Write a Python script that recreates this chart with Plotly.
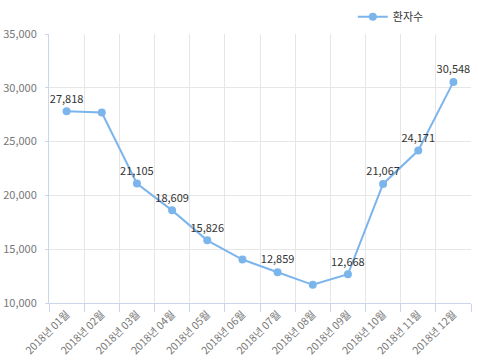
import plotly.graph_objects as go

months = ["2018년 01월", "2018년 02월", "2018년 03월", "2018년 04월", "2018년 05월", "2018년 06월",
          "2018년 07월", "2018년 08월", "2018년 09월", "2018년 10월", "2018년 11월", "2018년 12월"]
patients = [27818, 27700, 21105, 18609, 15826, 14040, 12859, 11690, 12668, 21067, 24171, 30548]
show_label = [True, False, True, True, True, False, True, False, True, True, True, True]
series_name = "환자수"

labels = [f"{v:,}" if s else "" for v, s in zip(patients, show_label)]

FONT = "Noto Sans CJK KR, Malgun Gothic, sans-serif"

fig = go.Figure()
fig.add_trace(go.Scatter(
    x=months, y=patients, name=series_name, mode="lines+markers+text",
    text=labels, textposition="top center",
    textfont=dict(size=11, color="#333333", family=FONT),
    line=dict(color="#7cb5ec", width=2),
    marker=dict(color="#7cb5ec", size=8),
    cliponaxis=False,
))

fig.update_layout(
    width=478, height=361,
    margin=dict(l=49, r=7, t=34, b=58, autoexpand=False),
    paper_bgcolor="white", plot_bgcolor="white",
    font=dict(family=FONT, size=11, color="#666666"),
    showlegend=True,
    legend=dict(orientation="h", x=0.90, xanchor="right", y=1.01, yanchor="bottom",
                itemwidth=30,
                font=dict(size=11, color="#333333"),
                bgcolor="rgba(0,0,0,0)"),
    xaxis=dict(
        type="category", tickson="boundaries", tickangle=-45,
        showgrid=True, gridcolor="#e6e6e6", gridwidth=1,
        showline=True, linecolor="#ccd6eb", linewidth=1,
        ticks="outside", ticklen=8, tickcolor="#ccd6eb",
        tickfont=dict(size=10.5, color="#777777"),
        range=[-0.5, 11.5], fixedrange=True, automargin=False,
    ),
    yaxis=dict(
        range=[10000, 35000], tickvals=[10000, 15000, 20000, 25000, 30000, 35000],
        tickformat=",d",
        showgrid=True, gridcolor="#e6e6e6", gridwidth=1,
        showline=True, linecolor="#ccd6eb", linewidth=1,
        ticks="outside", ticklen=3, tickcolor="#ccd6eb",
        zeroline=False, ticklabelstandoff=6, automargin=False,
        tickfont=dict(size=11, color="#777777"),
    ),
)

fig.write_html("out.html", config={"displayModeBar": False},
               post_script="document.body.style.margin='0';document.body.style.overflow='hidden';")
